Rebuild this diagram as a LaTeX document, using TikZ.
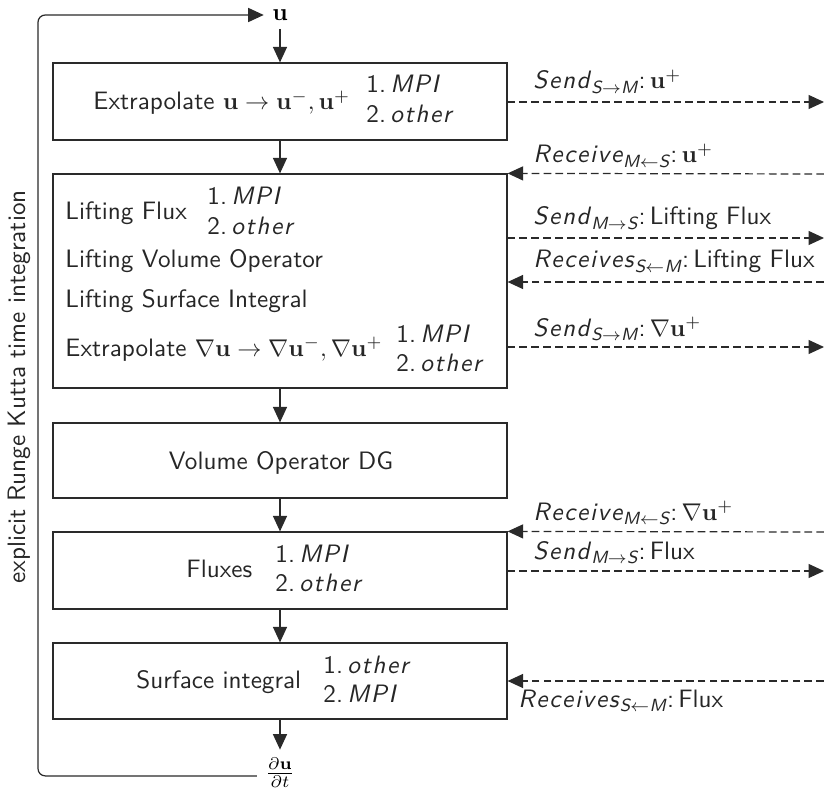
\documentclass[tikz,border=0pt]{standalone}
\usepackage{amsmath}
\usetikzlibrary{arrows.meta,fit}
\renewcommand\familydefault{\sfdefault}

% italic words with slightly opened letter spacing
\def\SpreadLoop#1#2{#1\ifx#2\relax\else\kern0.7pt\expandafter\SpreadLoop\expandafter#2\fi}
\newcommand\sit[1]{\textit{\SpreadLoop#1\relax}}
\newcommand\steps[2]{\begin{tabular}[t]{@{}l@{}}1.\,\sit{#1}\\2.\,\sit{#2}\end{tabular}}
% message label: action, direction, payload
\newcommand\msg[4]{\sit{#1}$_{\sit{#2}#3\sit{#4}}$:\,}

\definecolor{linegray}{HTML}{2A2A2A}

\tikzset{
  box/.style={draw=linegray, line width=0.5pt, inner sep=0pt},
  txt/.style={anchor=base west, inner sep=0pt, text=black!85},
  arr/.style={draw=linegray, line width=0.5pt, -{Triangle[length=6.4pt,width=5.8pt]}},
  comm/.style={arr, dash pattern=on 3.2pt off 1.7pt},
}

\begin{document}
\begin{tikzpicture}[x=0.4132pt, y=-0.4132pt, font=\fontsize{10.4pt}{12.2pt}\selectfont]
\useasboundingbox (0,0) rectangle (824,795);

% processing stages
\node[box, fit={(53,63) (507,140)}]  (b1) {};
\node[box, fit={(53,174) (507,388)}] (b2) {};
\node[box, fit={(53,423) (507,498)}] (b3) {};
\node[box, fit={(53,532) (507,609)}] (b4) {};
\node[box, fit={(53,643) (507,719)}] (b5) {};

% stage 1
\node[txt] (t1) at (93,110) {Extrapolate $\mathbf{u}\to\mathbf{u}^-,\mathbf{u}^+$};
\node[txt] (s1) at (366,93) {\steps{MPI}{other}};

% stage 2
\node[txt] (t2a) at (65,220) {Lifting Flux};
\node[txt] (s2a) at (207,205) {\steps{MPI}{other}};
\node[txt] (t2b) at (65,268) {Lifting Volume Operator};
\node[txt] (t2c) at (65,307) {Lifting Surface Integral};
\node[txt] (t2d) at (65,356) {Extrapolate $\nabla\mathbf{u}\to\nabla\mathbf{u}^-,\nabla\mathbf{u}^+$};
\node[txt] (s2d) at (396,342) {\steps{MPI}{other}};

% stage 3
\node[txt, anchor=base] (t3) at (281,469) {Volume Operator DG};

% stage 4
\node[txt] (t4) at (186,577) {Fluxes};
\node[txt] (s4) at (275,562) {\steps{MPI}{other}};

% stage 5
\node[txt] (t5) at (136,688) {Surface integral};
\node[txt] (s5) at (323,673) {\steps{other}{MPI}};

% state and time derivative
\node (u) at (280,15) {$\mathbf{u}$};
\node (dudt) at (280,773) {$\frac{\partial\mathbf{u}}{\partial t}$};
\coordinate (lp) at (38,15);

\draw[arr] (u.south) -- (b1.north);
\draw[arr] (b1.south) -- (b2.north);
\draw[arr] (b2.south) -- (b3.north);
\draw[arr] (b3.south) -- (b4.north);
\draw[arr] (b4.south) -- (b5.north);
\draw[arr] (b5.south) -- (dudt.north);
\draw[arr, rounded corners=3pt] ([yshift=-1.2pt]dudt.west) -| (lp) -- (u.west);

\node[rotate=90, text=black!85] (rk) at (19,387) {explicit Runge Kutta time integration};

% communication with the partner side
\coordinate (r1) at (824,102);
\coordinate (r2) at (824,174);
\coordinate (r3) at (824,238);
\coordinate (r4) at (824,282);
\coordinate (r5) at (824,347);
\coordinate (r6) at (824,532);
\coordinate (r7) at (824,571);
\coordinate (r8) at (824,681);

\draw[comm] (b1.east |- r1) -- (r1);
\draw[comm] (r2) -- (b2.north east);
\draw[comm] (b2.east |- r3) -- (r3);
\draw[comm] (r4) -- (b2.east |- r4);
\draw[comm] (b2.east |- r5) -- (r5);
\draw[comm] (r6) -- (b4.north east);
\draw[comm] (b4.east |- r7) -- (r7);
\draw[comm] (r8) -- (b5.east |- r8);

\node[txt] (l1) at (533,89)  {\msg{Send}{S}{\to}{M}$\mathbf{u}^+$};
\node[txt] (l2) at (533,163) {\msg{Receive}{M}{\leftarrow}{S}$\mathbf{u}^+$};
\node[txt] (l3) at (533,225) {\msg{Send}{M}{\to}{S}Lifting Flux};
\node[txt] (l4) at (533,268) {\msg{Receives}{S}{\leftarrow}{M}Lifting Flux};
\node[txt] (l5) at (533,336) {\msg{Send}{S}{\to}{M}$\nabla\mathbf{u}^+$};
\node[txt] (l6) at (533,520) {\msg{Receive}{M}{\leftarrow}{S}$\nabla\mathbf{u}^+$};
\node[txt] (l7) at (533,559) {\msg{Send}{M}{\to}{S}Flux};
\node[txt] (l8) at (518,707) {\msg{Receives}{S}{\leftarrow}{M}Flux};
\end{tikzpicture}
\end{document}
